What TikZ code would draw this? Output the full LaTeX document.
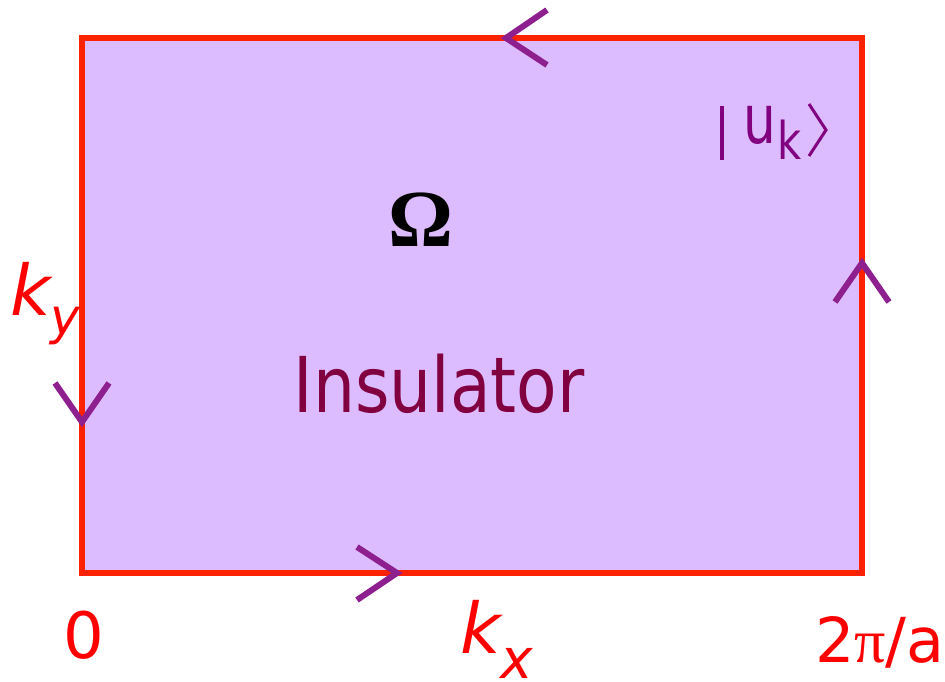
\documentclass[tikz,border=0pt]{standalone}
\usepackage{fontspec}
\setmainfont{DejaVu Sans}
\newfontfamily\serifgreek{Liberation Serif}
\usepackage{xcolor}
\usetikzlibrary{calc}
\definecolor{zoneviolet}{RGB}{221, 187, 255}
\definecolor{edgered}{RGB}{255, 34, 0}
\definecolor{chevpurple}{RGB}{142, 31, 142}
\definecolor{insmaroon}{RGB}{128, 0, 64}
\definecolor{statepurple}{RGB}{128, 0, 128}
\newcommand{\fs}[1]{\fontsize{#1}{#1}\selectfont}

\begin{document}
\begin{tikzpicture}[
    x=1pt, y=-1pt,
    zone/.style={draw=edgered, line width=6pt, fill=zoneviolet},
    chev/.style={draw=chevpurple, line width=6pt, line join=miter},
    ket/.style={draw=statepurple, line width=3.5pt},
    axislbl/.style={text=red, inner sep=0pt, anchor=base west},
]
\useasboundingbox (0,0) rectangle (945,682);

% --- Brillouin zone ---
\coordinate (sw) at (82,573);
\coordinate (ne) at (862,38);
\draw[zone] (sw) rectangle (ne);

% --- Orientation chevrons round the edge ---
\draw[chev] (547,10)  -- (506,38)  -- (547,65);   % top, leftwards
\draw[chev] (835,302) -- (862,263) -- (889,302);  % right, upwards
\draw[chev] (357,547) -- (397,573) -- (357,600);  % bottom, rightwards
\draw[chev] (55,383)  -- (82,422)  -- (109,383);  % left, downwards

% --- Labels inside ---
\node[inner sep=0pt, anchor=base] (omega) at (421,246) {\serifgreek\bfseries\fs{81}Ω};
\node[inner sep=0pt, anchor=base, text=insmaroon] (ins) at (439,412)
    {\fs{77}\scalebox{0.86}[1]{Insulator}};

% ket |u_k> : bar and angle drawn, letters as text
\node[inner sep=0pt, anchor=base west, text=statepurple] (state) at (743,143)
    {\fs{68}\scalebox{0.76}[1]{u}\hspace{2pt}\raisebox{-17pt}{\fs{52}\scalebox{0.8}[1]{k}}};
\draw[ket, line width=4pt] (722,106) -- (722,160);
\draw[ket, line width=3pt] (809,104) -- (826,130) -- (809,156);

% --- Axis labels ---
\node[axislbl] (ky) at (10,315) {\fs{70}\itshape k\raisebox{-19pt}{\fs{50}y}};
\node[axislbl] (kx) at (460,653) {\fs{70}\itshape k\raisebox{-25pt}{\fs{55}x}};
\node[axislbl, anchor=base] (zero) at (84,658) {\fs{64}0};
\node[axislbl] (twopi) at (815,662) {\fs{62}2{\serifgreek π}/a};

\end{tikzpicture}
\end{document}
